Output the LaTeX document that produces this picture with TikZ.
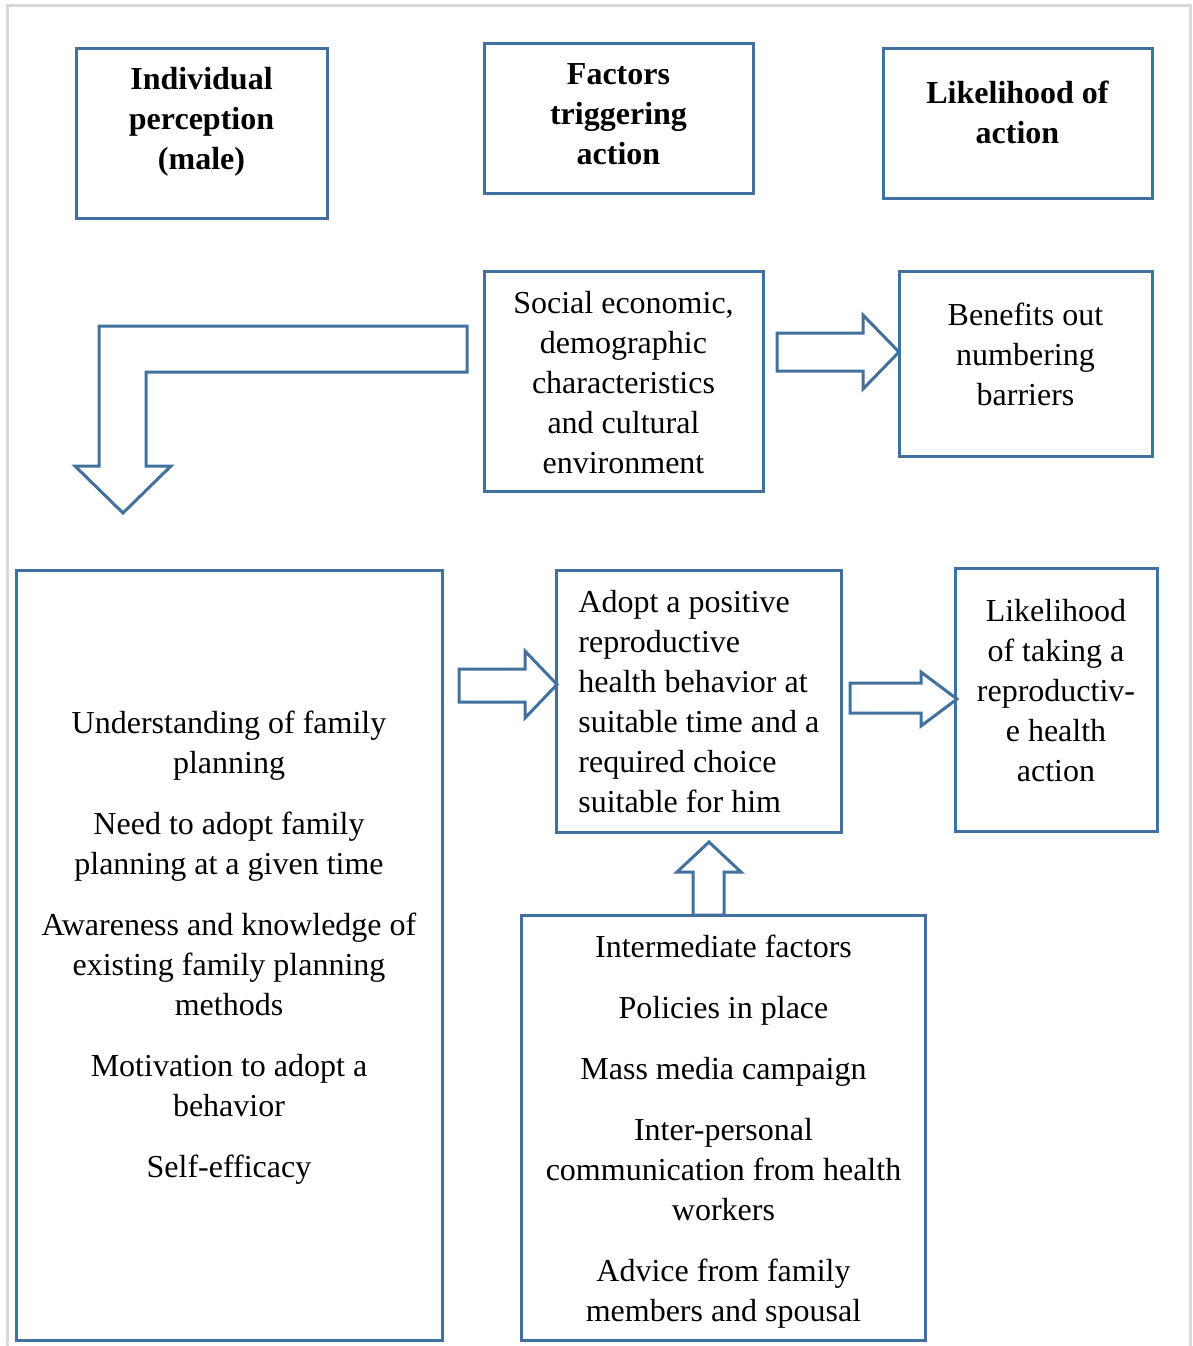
\documentclass[tikz,border=0pt]{standalone}
\usepackage{fontspec}
\setmainfont{Liberation Serif}
\usetikzlibrary{fit}
\definecolor{boxblue}{RGB}{65,113,156}
\definecolor{framegray}{RGB}{217,217,217}
\tikzset{
  box/.style={draw=boxblue,line width=1.5pt,inner sep=0pt},
  blockarrow/.style={draw=boxblue,line width=1.5pt,fill=white,line join=miter},
  txt/.style={font=\fontsize{16}{20}\selectfont,align=center,inner sep=0pt},
  head/.style={txt,font=\fontsize{16}{20}\selectfont\bfseries},
}
\begin{document}
\begin{tikzpicture}[x=0.5pt,y=-0.5pt]
\useasboundingbox (0,0) rectangle (1193,1346);
% outer frame
\draw[framegray,line width=1.5pt] (7,1350)--(7,5)--(1190,5)--(1190,1350);
% top row
\node[box,fit={(76,48) (327,218)}] (indiv) {};
\node[head] (indivtext) at (201.5,122) {Individual\\perception\\(male)};
\node[box,fit={(484,43) (753,193)}] (factors) {};
\node[head] (factorstext) at (618.5,114) {Factors\\triggering\\action};
\node[box,fit={(883,48) (1152,198)}] (likely) {};
\node[head] (likelytext) at (1017.5,112) {Likelihood of\\action};
% second row
\node[box,fit={(484,271) (763,491)}] (social) {};
\node[txt] (socialtext) at (623.5,383) {Social economic,\\demographic\\characteristics\\and cultural\\environment};
\node[box,fit={(899,271) (1152,456)}] (benefits) {};
\node[txt] (benefitstext) at (1025.5,354) {Benefits out\\numbering\\barriers};
\draw[blockarrow] (467,326)--(99,326)--(99,466)--(75,466)--(123,513)--(171,466)
  --(146,466)--(146,372)--(467,372)--cycle;
\draw[blockarrow] (777,333)--(863,333)--(863,315)--(899,352)--(863,389)--(863,371)--(777,371)--cycle;
% third row
\node[box,fit={(16,570) (442,1340)}] (understand) {};
\node[txt] (understandtext) at (229,948) {Understanding of family\\planning\\[10.5pt]
  Need to adopt family\\planning at a given time\\[10.5pt]
  Awareness and knowledge of\\existing family planning\\methods\\[10.5pt]
  Motivation to adopt a\\behavior\\[10.5pt]
  Self-efficacy};
\node[box,fit={(556,570) (841,832)}] (adopt) {};
\node[txt,align=left,anchor=west] (adopttext) at (578,702) {Adopt a positive\\reproductive\\health behavior at\\suitable time and a\\required choice\\suitable for him};
\node[box,fit={(955,568) (1157,831)}] (taking) {};
\node[txt] (takingtext) at (1056,691) {Likelihood\\of taking a\\reproductiv-\\e health\\action};
\draw[blockarrow] (459,669)--(525,669)--(525,651)--(557,684.5)--(525,718)--(525,702)--(459,702)--cycle;
\draw[blockarrow] (850,683)--(921,683)--(921,672)--(957,699)--(921,726)--(921,713)--(850,713)--cycle;
% intermediate factors
\draw[blockarrow] (693,915)--(693,872)--(677,872)--(709,842)--(741,872)--(724,872)--(724,915)--cycle;
\node[box,fit={(521,915) (925,1340)}] (inter) {};
\node[txt] (intertext) at (723.5,1132) {Intermediate factors\\[10.5pt]
  Policies in place\\[10.5pt]
  Mass media campaign\\[10.5pt]
  Inter-personal\\communication from health\\workers\\[10.5pt]
  Advice from family\\members and spousal};
\end{tikzpicture}
\end{document}
